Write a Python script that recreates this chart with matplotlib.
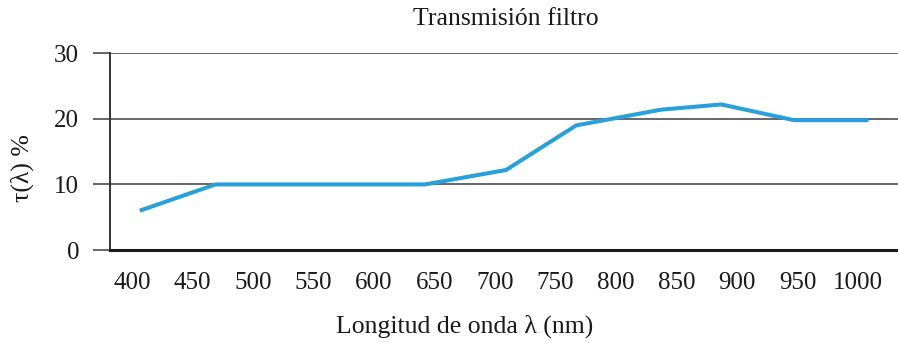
import matplotlib
matplotlib.use("Agg")
import matplotlib.pyplot as plt

# Transmission curve of the filter (wavelength in nm, transmission in %)
wavelength = [408, 469, 642, 709, 767, 837, 887, 947, 1007]
transmission = [6.1, 10.0, 10.0, 12.2, 19.0, 21.4, 22.2, 19.8, 19.8]

x_ticks = [400, 450, 500, 550, 600, 650, 700, 750, 800, 850, 900, 950, 1000]
y_ticks = [0, 10, 20, 30]

plt.rcParams['font.family'] = ['Liberation Serif', 'DejaVu Serif']

fig = plt.figure(figsize=(8.98, 3.43), dpi=100)
ax = fig.add_axes([0.1225, 0.2711, 0.8775, 0.5735])

ax.plot(wavelength, transmission, color='#27a0dc', linewidth=2.9,
        solid_joinstyle='miter', zorder=3)

ax.set_xlim(381.8, 1033)
ax.set_ylim(0, 30)
ax.set_xticks(x_ticks)
ax.set_yticks(y_ticks)

ax.grid(axis='y', color='#4d4d4d', linewidth=1.2)
ax.set_axisbelow(True)

for side in ['top', 'right']:
    ax.spines[side].set_visible(False)
ax.spines['left'].set_color('#333333')
ax.spines['left'].set_linewidth(1.4)
ax.spines['bottom'].set_color('#1a1a1a')
ax.spines['bottom'].set_linewidth(2.2)

# y ticks run out to the left like extensions of the grid
ax.tick_params(axis='y', length=12.2, width=1.2, color='#4d4d4d', pad=10,
               labelsize=18, labelcolor='#1a1a1a')
ax.tick_params(axis='x', length=0, pad=16, labelsize=18, labelcolor='#1a1a1a')

fig.text(506 / 898, 1 - 19 / 343, 'Transmisión filtro', fontsize=18.5,
         color='#1a1a1a', ha='center', va='center')
fig.text(465 / 898, 1 - 326 / 343, 'Longitud de onda λ (nm)', fontsize=18.5,
         color='#1a1a1a', ha='center', va='center')
fig.text(22 / 898, 1 - 168 / 343, 'τ(λ) %', fontsize=18.5, color='#1a1a1a',
         ha='center', va='center', rotation=90)

fig.savefig('out.png', dpi=100)
